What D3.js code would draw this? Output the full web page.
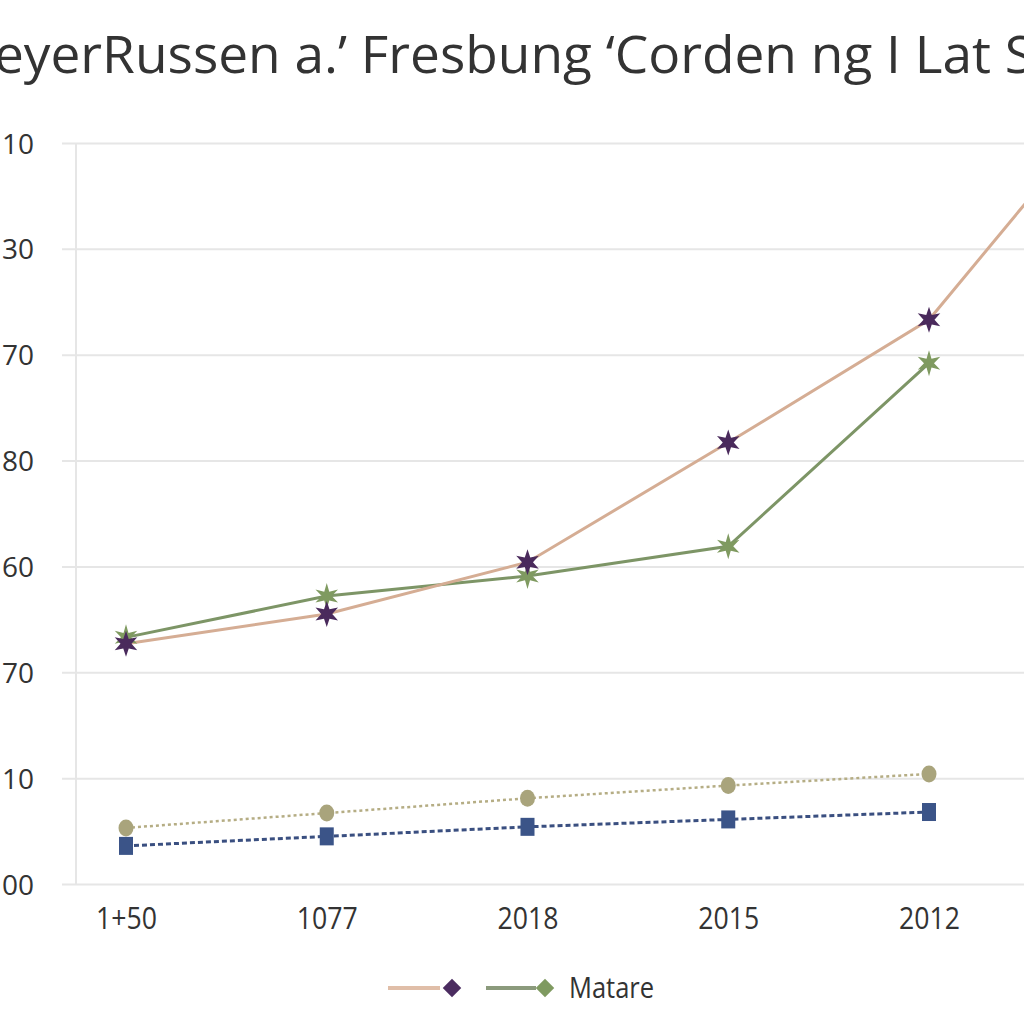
<!DOCTYPE html>
<html><head><meta charset="utf-8">
<script src="https://cdn.jsdelivr.net/npm/d3@7"></script>
<style>body{margin:0;background:#fff}svg{display:block}</style>
</head><body>
<svg id="c" width="1024" height="1024"></svg>
<script>
const titleText = "eyerRussen a.’ Fresbung ‘Corden ng I Lat S";
const xLabels = ["1+50", "1077", "2018", "2015", "2012"];
const yLabels = ["00", "10", "70", "60", "80", "70", "30", "10"]; // bottom to top
const seriesA = [2.27, 2.55, 3.04, 4.17, 5.33, 7.62]; // tan line, purple stars (continues off the edge)
const seriesB = [2.33, 2.72, 2.91, 3.19, 4.92];       // green line, green stars
const seriesC = [0.53, 0.67, 0.81, 0.93, 1.04];       // khaki dotted, circles
const seriesD = [0.36, 0.45, 0.54, 0.61, 0.68];       // navy dashed, squares
const legendLabel = "Matare";

const svg = d3.select("#c");
const x = d3.scaleLinear().domain([0, 4]).range([126, 929]);
const y = d3.scaleLinear().domain([0, 7]).range([884, 143]);

// gridlines
const grid = d3.axisLeft(y).tickValues(d3.range(0, 8)).tickSize(-962).tickFormat("");
const gG = svg.append("g").attr("transform", "translate(62,0)").call(grid);
gG.select(".domain").remove();
gG.selectAll("line").attr("stroke", "#e6e6e6").attr("stroke-width", 2);

// vertical axis line
svg.append("line").attr("x1", 76).attr("x2", 76).attr("y1", y(7)).attr("y2", y(0))
  .attr("stroke", "#e6e6e6").attr("stroke-width", 2);

// y labels
const yAx = d3.axisLeft(y).tickValues(d3.range(0, 8)).tickSize(0).tickFormat(i => yLabels[i]);
const yG = svg.append("g").attr("transform", "translate(37,0)").call(yAx);
yG.select(".domain").remove();
yG.selectAll("text").attr("font-family", "Open Sans, sans-serif").attr("font-size", 28)
  .attr("fill", "#333").attr("dy", "0.36em");

// x labels
const xAx = d3.axisBottom(x).tickValues(d3.range(0, 5)).tickSize(0).tickFormat(i => xLabels[i]);
const xG = svg.append("g").attr("transform", "translate(0,904)").call(xAx);
xG.select(".domain").remove();
xG.selectAll("text").attr("font-family", "Open Sans, sans-serif").attr("font-size", 31)
  .attr("fill", "#333").attr("transform", "scale(0.86,1)").attr("dy", "0.71em");

// title
svg.append("text").attr("x", -6).attr("y", 73).attr("font-family", "Open Sans, sans-serif")
  .attr("font-size", 51).attr("fill", "#333").attr("textLength", 1040).attr("lengthAdjust", "spacingAndGlyphs")
  .text(titleText);

function starPath(r, ri, n) {
  const pts = [];
  for (let k = 0; k < n * 2; k++) {
    const a = -Math.PI / 2 + k * Math.PI / n;
    const rr = k % 2 === 0 ? r : ri;
    pts.push([rr * Math.cos(a), rr * Math.sin(a)]);
  }
  return "M" + pts.map(p => p.join(",")).join("L") + "Z";
}

const line = d3.line().x((d, i) => x(i)).y(d => y(d));

// dotted khaki
svg.append("path").datum(seriesC).attr("d", line).attr("fill", "none")
  .attr("stroke", "#b5ad84").attr("stroke-width", 2.5).attr("stroke-dasharray", "3,3");
// dashed navy
svg.append("path").datum(seriesD).attr("d", line).attr("fill", "none")
  .attr("stroke", "#3a4f80").attr("stroke-width", 3).attr("stroke-dasharray", "5,3");

svg.selectAll(".cir").data(seriesC).join("ellipse").attr("cx", (d, i) => x(i)).attr("cy", d => y(d))
  .attr("rx", 7.5).attr("ry", 8.5).attr("fill", "#a9a47c");
svg.selectAll(".sq").data(seriesD).join("rect").attr("x", (d, i) => x(i) - 7).attr("y", d => y(d) - 9)
  .attr("width", 14).attr("height", 18).attr("fill", "#3b5488");

// green line and tan line
svg.append("path").datum(seriesB).attr("d", line).attr("fill", "none")
  .attr("stroke", "#7d9566").attr("stroke-width", 3);
svg.append("path").datum(seriesA).attr("d", line).attr("fill", "none")
  .attr("stroke", "#d5ad94").attr("stroke-width", 3);

svg.selectAll(".gs").data(seriesB).join("path")
  .attr("transform", (d, i) => `translate(${x(i)},${y(d)})`)
  .attr("d", starPath(13, 5, 6)).attr("fill", "#7f9a60");
svg.selectAll(".ps").data(seriesA).join("path")
  .attr("transform", (d, i) => `translate(${x(i)},${y(d)})`)
  .attr("d", starPath(13, 5.5, 6)).attr("fill", "#4a2a5c");

// legend
const diamond = d3.symbol(d3.symbolSquare, 170)();
const lg = svg.append("g");
lg.append("line").attr("x1", 388).attr("x2", 440).attr("y1", 988).attr("y2", 988).attr("stroke", "#e0bea8").attr("stroke-width", 4);
lg.append("path").attr("transform", "translate(452,988) rotate(45)").attr("d", diamond).attr("fill", "#4b2c60");
lg.append("line").attr("x1", 486).attr("x2", 536).attr("y1", 988).attr("y2", 988).attr("stroke", "#8b9a7c").attr("stroke-width", 4);
lg.append("path").attr("transform", "translate(545,988) rotate(45)").attr("d", diamond).attr("fill", "#7f9a60");
lg.append("text").attr("x", 569).attr("y", 998).attr("font-family", "Open Sans, sans-serif").attr("font-size", 29)
  .attr("fill", "#333").attr("transform", "translate(569,0) scale(0.88,1) translate(-569,0)").text(legendLabel);
</script>
</body></html>
